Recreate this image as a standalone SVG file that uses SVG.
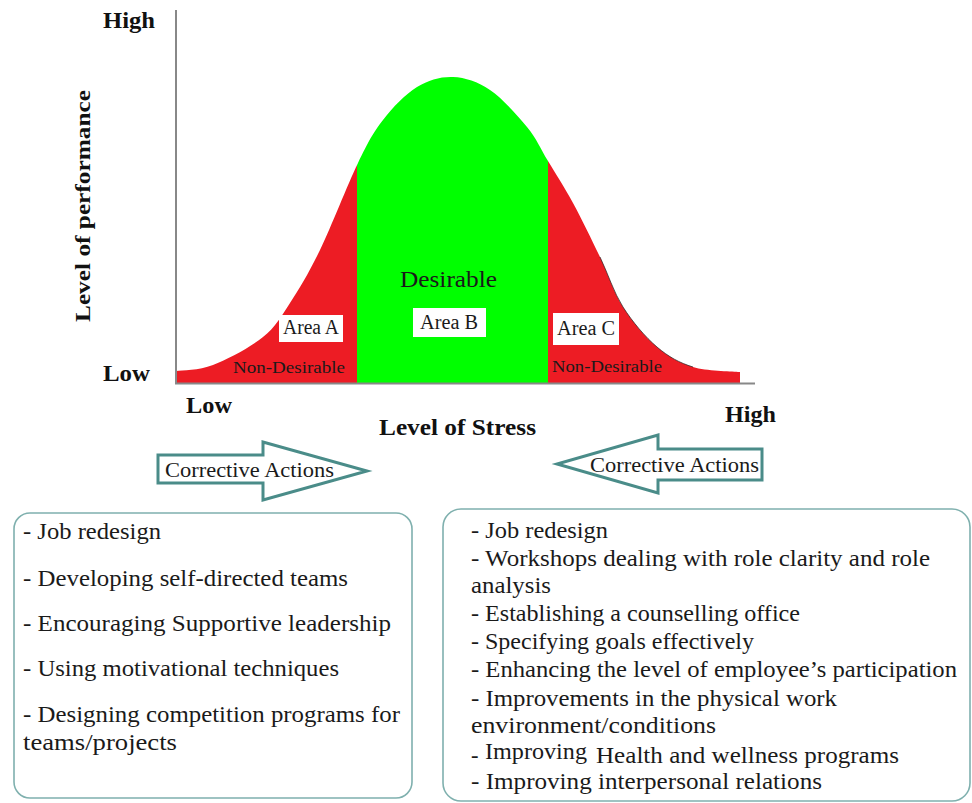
<svg xmlns="http://www.w3.org/2000/svg" width="972" height="803" viewBox="0 0 972 803">
<style>
.axl{font-family:"Liberation Serif","Times New Roman",serif;font-weight:bold;fill:#111;}
.lbl{font-family:"Liberation Serif","Times New Roman",serif;fill:#1a1a1a;}
.box{fill:#fff;stroke:#7fb0ae;stroke-width:1.6;}
.arr{fill:#fff;stroke:#4a8c89;stroke-width:3;stroke-linejoin:miter;}
.tag{fill:#fff;}
.bt{font-family:"Liberation Serif","Times New Roman",serif;font-size:22.5px;fill:#1a1a1a;}
</style>
<defs>
<clipPath id="bell">
<path id="bellPath" d="M176,371 C182.2,370 198.5,370.7 213,365 C227.5,359.3 250.2,347.3 263,337 C275.8,326.7 280.5,317.5 290,303 C299.5,288.5 308.7,273.3 320,250 C331.3,226.7 347.5,184.7 358,163 C368.5,141.3 373.2,132.7 383,120 C392.8,107.3 405.3,94.2 417,87 C428.7,79.8 440.8,76.5 453,77 C465.2,77.5 477.7,81.7 490,90 C502.3,98.3 517.3,115.2 527,127 C536.7,138.8 540.3,148.3 548,161 C555.7,173.7 564.3,187 573,203 C581.7,219 591.7,239.7 600,257 C608.3,274.3 613.5,292 623,307 C632.5,322 645.3,337 657,347 C668.7,357 679.5,362.8 693,367 C706.5,371.2 730.5,371.2 738,372 L740,372 L740,383 L176,383 Z"/>
</clipPath>
</defs>
<rect width="972" height="803" fill="#fff"/>

<g id="chart">
<g clip-path="url(#bell)">
<rect x="176" y="60" width="181" height="330" fill="#ed1c24"/>
<rect x="357" y="60" width="191" height="330" fill="#00ff00"/>
<rect x="548" y="60" width="195" height="330" fill="#ed1c24"/>
</g>
<path d="M600,257 C608.3,274.3 613.5,292 623,307 C632.5,322 645.3,337 657,347 C668.7,357 679.5,362.8 693,367" fill="none" stroke="#222" stroke-width="1" opacity="0.7"/>
<line x1="176" y1="10" x2="176" y2="384" stroke="#888" stroke-width="2"/>
<line x1="175" y1="383.5" x2="755" y2="383.5" stroke="#888" stroke-width="2"/>
</g>

<g id="axis-labels">
<text class="axl" x="103" y="28" font-size="23" textLength="52" lengthAdjust="spacingAndGlyphs">High</text>
<text class="axl" x="103" y="381" font-size="23" textLength="47" lengthAdjust="spacingAndGlyphs">Low</text>
<text class="axl" transform="translate(90,206) rotate(-90)" text-anchor="middle" font-size="22" textLength="232" lengthAdjust="spacingAndGlyphs">Level of performance</text>
<text class="axl" x="186" y="413" font-size="23" textLength="46" lengthAdjust="spacingAndGlyphs">Low</text>
<text class="axl" x="725" y="422" font-size="23" textLength="51" lengthAdjust="spacingAndGlyphs">High</text>
<text class="axl" x="379" y="435" font-size="23" textLength="157" lengthAdjust="spacingAndGlyphs">Level of Stress</text>
</g>

<g id="area-a">
<rect class="tag" x="279" y="315" width="64" height="27"/>
<text class="lbl" x="283" y="334" font-size="20" textLength="56" lengthAdjust="spacingAndGlyphs">Area A</text>
<text class="lbl" x="233" y="373" font-size="17" textLength="112" lengthAdjust="spacingAndGlyphs">Non-Desirable</text>
</g>
<g id="area-b">
<text class="lbl" x="400" y="287" font-size="24" textLength="97" lengthAdjust="spacingAndGlyphs">Desirable</text>
<rect class="tag" x="413" y="308" width="73" height="29"/>
<text class="lbl" x="420" y="329" font-size="20" textLength="58" lengthAdjust="spacingAndGlyphs">Area B</text>
</g>
<g id="area-c">
<rect class="tag" x="553" y="313" width="66" height="32"/>
<text class="lbl" x="557" y="335" font-size="20" textLength="58" lengthAdjust="spacingAndGlyphs">Area C</text>
<text class="lbl" x="552" y="372" font-size="17" textLength="110" lengthAdjust="spacingAndGlyphs">Non-Desirable</text>
</g>

<g id="connectors">
<g id="arrow-left">
<polygon class="arr" points="158,455 263,455 263,442 367,471 263,500 263,483 158,483"/>
<text class="lbl" x="165" y="477" font-size="20.5" textLength="169" lengthAdjust="spacingAndGlyphs">Corrective Actions</text>
</g>
<g id="arrow-right">
<polygon class="arr" points="762,449 658,449 658,435 557,464 658,493 658,480 762,480"/>
<text class="lbl" x="590" y="472" font-size="20.5" textLength="169" lengthAdjust="spacingAndGlyphs">Corrective Actions</text>
</g>
</g>

<g id="box-left">
<rect class="box" x="14" y="513" width="398" height="285" rx="16"/>
<text class="bt" x="23" y="539" textLength="138" lengthAdjust="spacingAndGlyphs">- Job redesign</text>
<text class="bt" x="23" y="586" textLength="325" lengthAdjust="spacingAndGlyphs">- Developing self-directed teams</text>
<text class="bt" x="23" y="631" textLength="368" lengthAdjust="spacingAndGlyphs">- Encouraging Supportive leadership</text>
<text class="bt" x="23" y="676" textLength="316" lengthAdjust="spacingAndGlyphs">- Using motivational techniques</text>
<text class="bt" x="23" y="722" textLength="377" lengthAdjust="spacingAndGlyphs">- Designing competition programs for</text>
<text class="bt" x="23" y="750" textLength="154" lengthAdjust="spacingAndGlyphs">teams/projects</text>
</g>

<g id="box-right">
<rect class="box" x="443" y="509" width="527" height="292" rx="18"/>
<text class="bt" x="471" y="538" textLength="137" lengthAdjust="spacingAndGlyphs">- Job redesign</text>
<text class="bt" x="471" y="566" textLength="459" lengthAdjust="spacingAndGlyphs">- Workshops dealing with role clarity and role</text>
<text class="bt" x="471" y="593" textLength="80" lengthAdjust="spacingAndGlyphs">analysis</text>
<text class="bt" x="471" y="621" textLength="329" lengthAdjust="spacingAndGlyphs">- Establishing a counselling office</text>
<text class="bt" x="471" y="649" textLength="283" lengthAdjust="spacingAndGlyphs">- Specifying goals effectively</text>
<text class="bt" x="471" y="677" textLength="486" lengthAdjust="spacingAndGlyphs">- Enhancing the level of employee’s participation</text>
<text class="bt" x="471" y="706" textLength="366" lengthAdjust="spacingAndGlyphs">- Improvements in the physical work</text>
<text class="bt" x="471" y="733" textLength="245" lengthAdjust="spacingAndGlyphs">environment/conditions</text>
<text class="bt" x="471" y="763">-</text>
<text class="bt" x="485" y="759" font-size="21" textLength="102" lengthAdjust="spacingAndGlyphs">Improving</text>
<text class="bt" x="596" y="763" textLength="303" lengthAdjust="spacingAndGlyphs">Health and wellness programs</text>
<text class="bt" x="471" y="789" textLength="351" lengthAdjust="spacingAndGlyphs">- Improving interpersonal relations</text>
</g>
</svg>
